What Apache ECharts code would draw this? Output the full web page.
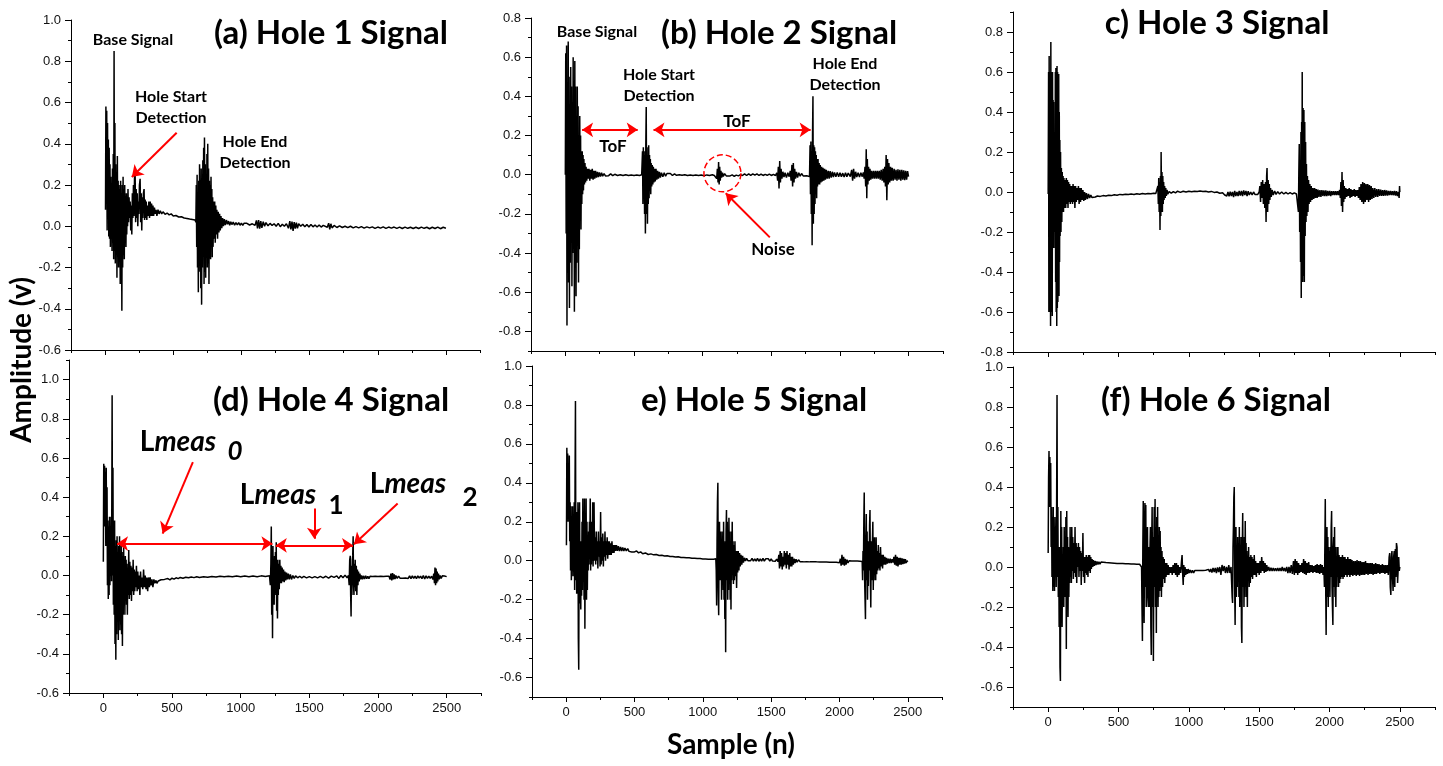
<!DOCTYPE html>
<html><head><meta charset="utf-8">
<script src="https://cdn.jsdelivr.net/npm/echarts@6/dist/echarts.min.js"></script>
<style>html,body{margin:0;padding:0;background:#fff}#c{width:1443px;height:766px}</style>
</head><body><div id="c"></div>
<script>
// ---------------- DATA ----------------
const hole1 = [[3,0.08],[6,0.58],[9,0.15],[12,0.56],[15,-0.02],[18,0.5],[21,0.05],[24,0.42],[27,-0.05],[30,0.38],[33,-0.06],[36,0.3],[39,-0.1],[42,0.24],[45,-0.06],[48,0.2],[51,-0.12],[54,0.28],[57,-0.08],[60,0.35],[63,-0.16],[66,0.85],[69,-0.12],[72,0.5],[75,-0.18],[78,0.3],[81,-0.06],[84,0.26],[87,-0.25],[90,0.34],[93,-0.12],[96,0.22],[99,-0.2],[102,0.2],[105,-0.1],[108,0.18],[111,-0.28],[114,0.22],[117,-0.14],[120,0.16],[123,-0.41],[126,0.2],[129,-0.2],[132,0.24],[135,-0.14],[138,0.18],[141,-0.16],[144,0.2],[147,-0.06],[150,0.14],[153,-0.1],[156,0.16],[159,-0.04],[162,0.12],[165,0.0],[168,0.18],[172,0.02],[176,0.14],[180,0.04],[184,0.12],[188,-0.02],[192,0.1],[196,-0.04],[200,0.16],[204,0.04],[208,0.2],[212,0.05],[216,0.24],[220,0.28],[224,0.02],[228,0.18],[232,0.04],[236,0.16],[240,0.0],[244,0.12],[248,0.06],[252,0.2],[257,0.23],[261,0.02],[265,0.16],[269,-0.02],[273,0.14],[277,0.04],[281,0.16],[286,0.18],[290,0.03],[294,0.13],[298,0.04],[302,0.12],[306,0.03],[311,0.1],[316,0.05],[321,0.12],[326,0.04],[331,0.12],[336,0.05],[341,0.11],[346,0.05],[351,0.1],[356,0.05],[362,0.09],[368,0.06],[374,0.08],[380,0.05],[388,0.08],[396,0.06],[405,0.075],[415,0.06],[425,0.07],[440,0.058],[455,0.064],[470,0.055],[485,0.06],[500,0.05],[520,0.052],[540,0.045],[560,0.046],[580,0.04],[600,0.038],[620,0.035],[640,0.033],[660,0.03],[666,0.02],[669,0.2],[672,-0.1],[675,0.25],[678,-0.2],[681,0.15],[684,-0.32],[687,0.22],[690,-0.22],[693,0.3],[696,-0.15],[699,0.2],[702,-0.3],[705,0.28],[708,-0.38],[711,0.2],[714,-0.2],[717,0.32],[720,-0.12],[723,0.38],[726,-0.28],[729,0.43],[732,-0.22],[735,0.3],[738,-0.25],[741,0.25],[744,-0.15],[747,0.35],[750,-0.2],[753,0.4],[756,-0.18],[759,0.28],[762,-0.28],[765,0.22],[768,-0.12],[771,0.2],[774,-0.16],[777,0.24],[780,-0.08],[783,0.18],[786,-0.15],[789,0.14],[792,-0.1],[796,0.12],[800,-0.06],[804,0.12],[808,-0.08],[812,0.1],[816,-0.04],[820,0.08],[825,-0.06],[830,0.07],[835,-0.03],[840,0.06],[845,-0.02],[850,0.05],[856,-0.01],[862,0.04],[868,0.0],[875,0.035],[882,0.005],[890,0.03],[898,0.01],[906,0.025],[914,0.005],[922,0.022],[930,0.008],[940,0.02],[950,0.005],[960,0.018],[970,0.006],[980,0.018],[990,0.005],[1000,0.015],[1010,0.004],[1020,0.015],[1040,0.014],[1060,0.006],[1080,0.012],[1100,0.004],[1110,0.028],[1118,-0.01],[1126,0.03],[1134,-0.012],[1142,0.025],[1150,-0.008],[1160,0.022],[1170,0.0],[1180,0.018],[1195,0.002],[1210,0.014],[1225,0.004],[1240,0.012],[1255,0.0],[1270,0.014],[1285,-0.002],[1300,0.01],[1315,0.0],[1330,0.012],[1345,-0.01],[1355,0.025],[1363,-0.015],[1371,0.022],[1379,-0.022],[1387,0.02],[1395,-0.012],[1403,0.018],[1411,-0.01],[1420,0.012],[1435,0.0],[1450,0.01],[1465,-0.002],[1480,0.008],[1495,-0.004],[1510,0.008],[1525,-0.003],[1540,0.006],[1555,-0.004],[1570,0.006],[1585,-0.004],[1600,0.004],[1630,-0.005],[1640,0.015],[1648,-0.015],[1656,0.012],[1665,-0.008],[1680,0.004],[1700,-0.006],[1720,0.002],[1740,-0.006],[1760,0.0],[1780,-0.007],[1800,0.0],[1820,-0.008],[1840,-0.002],[1860,-0.008],[1880,-0.002],[1900,-0.009],[1920,-0.003],[1940,-0.008],[1960,-0.003],[1980,-0.01],[2000,-0.004],[2020,-0.009],[2040,-0.003],[2060,-0.01],[2080,-0.004],[2100,-0.009],[2120,-0.004],[2140,-0.01],[2160,-0.004],[2180,-0.011],[2200,-0.004],[2220,-0.01],[2240,-0.005],[2260,-0.011],[2280,-0.005],[2300,-0.011],[2320,-0.004],[2340,-0.01],[2360,-0.005],[2380,-0.012],[2400,-0.005],[2420,-0.011],[2440,-0.004],[2460,-0.012],[2480,-0.005],[2500,-0.01]];

const hole2 = [[0,0.0],[3,0.62],[6,-0.3],[9,0.66],[12,-0.77],[15,0.4],[18,-0.5],[21,0.68],[24,-0.55],[27,0.5],[30,-0.68],[33,0.3],[36,-0.45],[39,0.55],[42,-0.3],[45,0.45],[48,-0.57],[51,0.2],[54,-0.4],[57,0.6],[60,-0.2],[63,0.4],[66,-0.7],[69,0.58],[72,-0.35],[75,0.45],[78,-0.62],[81,0.3],[84,-0.45],[87,0.45],[90,-0.3],[93,0.35],[96,-0.55],[99,0.2],[102,-0.38],[105,0.3],[108,-0.2],[111,0.2],[114,-0.28],[117,0.12],[120,-0.15],[123,0.12],[126,-0.1],[129,0.1],[132,-0.08],[135,0.08],[139,-0.05],[143,0.06],[147,-0.04],[151,0.04],[156,-0.03],[161,0.03],[166,-0.02],[172,0.03],[178,-0.03],[184,0.025],[190,-0.02],[196,0.03],[202,-0.025],[208,0.02],[214,-0.02],[220,0.02],[227,-0.015],[234,0.015],[241,-0.012],[248,0.012],[256,-0.01],[264,0.01],[272,-0.008],[282,0.006],[292,-0.006],[302,0.004],[315,-0.005],[330,0.004],[345,-0.005],[360,0.002],[380,-0.004],[400,0.0],[420,-0.004],[440,0.0],[460,-0.004],[480,-0.001],[500,-0.004],[520,-0.001],[540,-0.004],[556,0.0],[562,0.12],[565,-0.15],[568,0.14],[571,-0.05],[574,0.12],[577,-0.2],[580,0.1],[583,-0.3],[586,0.15],[589,0.345],[592,-0.2],[595,0.14],[598,-0.25],[601,0.1],[604,-0.15],[607,0.15],[610,-0.12],[613,0.1],[616,-0.08],[619,0.08],[622,-0.1],[625,0.06],[629,-0.06],[633,0.05],[637,-0.05],[641,0.04],[645,-0.04],[650,0.03],[655,-0.035],[660,0.03],[666,-0.025],[672,0.02],[678,-0.02],[685,0.015],[692,-0.015],[700,0.01],[710,-0.01],[720,0.01],[730,-0.008],[740,0.006],[752,-0.004],[765,0.006],[780,-0.004],[795,0.004],[810,-0.003],[830,0.0],[850,-0.003],[870,0.0],[890,-0.004],[910,-0.001],[930,-0.004],[950,-0.001],[970,-0.004],[990,-0.002],[1010,-0.005],[1030,-0.001],[1050,-0.004],[1070,0.0],[1085,-0.004],[1095,0.004],[1102,-0.02],[1107,0.03],[1112,-0.04],[1116,0.065],[1120,-0.05],[1124,0.04],[1128,-0.03],[1133,0.02],[1138,-0.015],[1144,0.01],[1150,-0.008],[1160,0.005],[1172,-0.006],[1185,0.002],[1200,-0.006],[1215,-0.001],[1230,-0.008],[1245,-0.002],[1260,-0.006],[1275,0.0],[1290,-0.004],[1305,0.004],[1320,-0.004],[1335,0.004],[1350,-0.003],[1365,0.004],[1380,-0.002],[1395,0.004],[1410,-0.004],[1425,0.003],[1440,-0.004],[1455,0.002],[1470,-0.003],[1485,0.003],[1500,-0.004],[1515,0.002],[1530,-0.004],[1540,0.01],[1546,-0.03],[1551,0.04],[1556,-0.07],[1561,0.07],[1566,-0.04],[1571,0.03],[1577,-0.02],[1584,0.015],[1592,-0.012],[1600,0.01],[1610,-0.015],[1620,0.01],[1630,-0.01],[1638,0.02],[1644,-0.03],[1650,0.05],[1655,-0.06],[1660,0.06],[1665,-0.04],[1670,0.03],[1676,-0.02],[1683,0.015],[1691,-0.015],[1700,0.01],[1710,-0.008],[1720,0.006],[1732,-0.006],[1745,0.004],[1758,-0.005],[1770,0.004],[1778,-0.01],[1782,0.15],[1785,-0.1],[1788,0.17],[1791,-0.2],[1794,0.12],[1797,-0.36],[1800,0.2],[1803,0.4],[1806,-0.25],[1809,0.15],[1812,-0.2],[1815,0.14],[1818,-0.15],[1821,0.12],[1824,-0.1],[1827,0.1],[1830,-0.12],[1833,0.08],[1836,-0.06],[1840,0.08],[1844,-0.05],[1848,0.06],[1852,-0.05],[1856,0.05],[1861,-0.04],[1866,0.04],[1871,-0.035],[1876,0.035],[1882,-0.03],[1888,0.03],[1894,-0.025],[1900,0.025],[1907,-0.02],[1914,0.02],[1921,-0.02],[1928,0.018],[1936,-0.015],[1944,0.015],[1952,-0.012],[1960,0.012],[1970,-0.01],[1980,0.012],[1990,-0.01],[2000,0.01],[2010,-0.01],[2020,0.008],[2030,-0.012],[2040,0.01],[2050,-0.01],[2060,0.008],[2075,-0.01],[2085,0.025],[2092,-0.03],[2099,0.03],[2106,-0.02],[2114,0.015],[2122,-0.012],[2132,0.01],[2142,-0.012],[2152,0.01],[2162,-0.01],[2170,0.012],[2176,-0.02],[2182,0.04],[2187,-0.06],[2191,0.13],[2195,-0.12],[2199,0.08],[2203,-0.05],[2208,0.04],[2213,-0.03],[2218,0.03],[2224,-0.025],[2230,0.02],[2237,-0.02],[2244,0.02],[2251,-0.02],[2258,0.02],[2265,-0.02],[2272,0.02],[2279,-0.02],[2286,0.02],[2293,-0.025],[2300,0.025],[2307,-0.03],[2314,0.03],[2320,-0.04],[2326,0.04],[2331,-0.06],[2336,0.1],[2341,-0.13],[2346,0.08],[2351,-0.05],[2356,0.06],[2362,-0.04],[2368,0.04],[2374,-0.03],[2380,0.035],[2387,-0.03],[2394,0.03],[2401,-0.025],[2408,0.025],[2415,-0.03],[2422,0.028],[2429,-0.025],[2436,0.025],[2443,-0.03],[2450,0.025],[2457,-0.025],[2464,0.022],[2471,-0.028],[2478,0.02],[2485,-0.025],[2492,0.018],[2499,-0.01]];

const hole3 = [[0,-0.01],[3,0.6],[5,-0.6],[7,0.68],[9,-0.58],[11,0.45],[13,-0.6],[15,0.6],[17,-0.67],[19,0.75],[21,-0.5],[23,0.6],[25,-0.6],[27,0.14],[29,-0.62],[31,0.6],[33,-0.28],[35,0.46],[37,-0.2],[39,0.45],[41,-0.28],[43,0.3],[45,-0.1],[47,0.12],[49,-0.2],[51,0.6],[53,-0.45],[55,0.62],[57,-0.6],[59,0.55],[61,-0.67],[63,0.63],[65,-0.58],[67,0.6],[69,-0.55],[71,0.59],[73,-0.5],[75,0.59],[77,-0.52],[79,0.4],[81,-0.35],[83,0.26],[85,-0.22],[88,0.2],[91,-0.2],[94,0.12],[97,-0.15],[100,0.1],[103,-0.1],[106,0.08],[109,-0.1],[112,0.07],[115,-0.08],[118,0.06],[121,0.05],[125,-0.08],[129,0.07],[133,-0.06],[137,0.06],[141,-0.08],[145,0.05],[149,-0.05],[153,0.04],[157,-0.06],[161,0.03],[165,-0.05],[169,0.03],[173,-0.06],[177,0.04],[181,-0.05],[185,0.03],[190,-0.08],[195,0.03],[200,-0.05],[205,0.02],[210,-0.04],[215,0.03],[220,-0.06],[225,0.02],[230,-0.05],[235,0.02],[241,-0.04],[247,0.01],[253,-0.045],[259,0.0],[265,-0.04],[272,-0.005],[279,-0.035],[287,-0.01],[295,-0.03],[303,-0.015],[312,-0.028],[322,-0.018],[335,-0.025],[350,-0.02],[370,-0.022],[390,-0.018],[410,-0.02],[430,-0.016],[450,-0.018],[470,-0.014],[490,-0.016],[510,-0.012],[530,-0.014],[550,-0.011],[570,-0.013],[590,-0.01],[610,-0.012],[630,-0.009],[650,-0.011],[670,-0.008],[690,-0.01],[710,-0.007],[730,-0.009],[750,-0.006],[765,-0.008],[775,-0.004],[780,0.03],[783,-0.06],[786,0.07],[789,-0.1],[792,0.05],[795,-0.19],[798,0.08],[801,-0.12],[803,0.2],[806,-0.08],[809,0.1],[812,-0.1],[815,0.08],[818,-0.06],[821,0.05],[824,-0.04],[828,0.03],[832,-0.03],[836,0.02],[840,-0.02],[845,0.01],[850,-0.01],[860,0.002],[875,-0.006],[890,0.002],[905,-0.004],[920,0.004],[940,-0.002],[960,0.004],[980,0.0],[1000,0.004],[1020,0.001],[1040,0.004],[1060,0.002],[1080,0.005],[1100,0.002],[1120,0.004],[1140,0.0],[1160,0.003],[1180,-0.002],[1200,0.0],[1220,-0.006],[1240,-0.004],[1255,-0.015],[1262,-0.005],[1270,-0.02],[1278,0.0],[1286,-0.022],[1294,0.002],[1302,-0.02],[1310,0.0],[1318,-0.025],[1326,0.005],[1334,-0.02],[1342,0.0],[1350,-0.02],[1358,0.005],[1366,-0.018],[1374,0.005],[1382,-0.02],[1390,0.008],[1398,-0.015],[1406,0.005],[1414,-0.02],[1422,0.004],[1430,-0.015],[1440,0.0],[1450,-0.015],[1460,0.0],[1470,-0.012],[1480,-0.002],[1490,-0.012],[1500,0.0],[1505,0.03],[1510,-0.05],[1515,0.05],[1520,-0.03],[1525,0.06],[1530,-0.06],[1535,0.04],[1540,-0.08],[1545,0.05],[1549,-0.15],[1553,0.08],[1556,0.12],[1560,-0.1],[1564,0.06],[1568,-0.06],[1572,0.04],[1576,-0.04],[1581,0.02],[1586,-0.025],[1592,0.01],[1600,-0.015],[1610,0.005],[1620,-0.012],[1632,0.002],[1645,-0.01],[1660,0.0],[1675,-0.01],[1690,-0.002],[1705,-0.01],[1720,-0.003],[1735,-0.01],[1750,-0.004],[1765,-0.01],[1775,-0.005],[1779,-0.1],[1782,0.1],[1785,0.24],[1788,-0.2],[1791,0.15],[1794,-0.35],[1797,0.3],[1799,-0.53],[1802,0.35],[1804,-0.3],[1806,0.6],[1809,-0.45],[1812,0.42],[1815,-0.42],[1818,0.41],[1821,-0.45],[1824,0.35],[1827,-0.22],[1830,0.25],[1833,-0.15],[1836,0.14],[1839,-0.12],[1843,0.08],[1847,-0.1],[1851,0.06],[1855,-0.06],[1860,0.04],[1865,-0.05],[1870,0.03],[1876,-0.04],[1882,0.02],[1888,-0.035],[1894,0.02],[1900,-0.03],[1906,0.015],[1912,-0.03],[1918,0.012],[1925,-0.025],[1932,0.01],[1939,-0.025],[1946,0.01],[1953,-0.02],[1960,0.008],[1967,-0.02],[1974,0.008],[1981,-0.02],[1988,0.006],[1995,-0.018],[2002,0.006],[2009,-0.02],[2016,0.004],[2023,-0.015],[2030,0.004],[2037,-0.015],[2044,0.004],[2051,-0.015],[2058,0.004],[2065,-0.015],[2072,0.01],[2077,-0.03],[2081,0.05],[2085,-0.07],[2089,0.1],[2093,-0.1],[2097,0.06],[2101,-0.05],[2105,0.03],[2110,-0.035],[2116,0.02],[2122,-0.025],[2128,0.015],[2134,-0.02],[2140,0.02],[2146,-0.03],[2152,0.015],[2158,-0.025],[2164,0.01],[2170,-0.02],[2176,0.015],[2182,-0.025],[2188,0.01],[2194,-0.02],[2200,0.01],[2206,-0.03],[2212,0.025],[2218,-0.04],[2224,0.04],[2230,-0.05],[2236,0.05],[2242,-0.06],[2248,0.045],[2254,-0.05],[2260,0.04],[2266,-0.04],[2272,0.04],[2278,-0.05],[2284,0.035],[2290,-0.04],[2296,0.03],[2302,-0.035],[2308,0.02],[2315,-0.03],[2322,0.02],[2329,-0.025],[2336,0.015],[2343,-0.025],[2350,0.015],[2357,-0.02],[2364,0.012],[2371,-0.02],[2378,0.01],[2385,-0.02],[2392,0.01],[2399,-0.018],[2406,0.008],[2413,-0.018],[2420,0.006],[2427,-0.016],[2434,0.005],[2441,-0.015],[2448,0.004],[2455,-0.016],[2462,0.005],[2469,-0.018],[2476,0.004],[2483,-0.02],[2490,0.0],[2495,-0.03],[2498,0.03],[2500,0.0]];

const hole4 = [[0,0.07],[3,0.57],[6,0.3],[9,0.56],[12,0.25],[15,0.53],[18,0.15],[21,0.55],[24,0.2],[27,0.45],[30,-0.05],[33,0.28],[36,-0.12],[39,0.25],[42,-0.1],[45,0.3],[48,-0.05],[51,0.2],[54,0.0],[57,0.3],[60,-0.03],[64,0.92],[67,0.0],[70,0.55],[73,-0.15],[76,0.2],[79,-0.2],[82,0.28],[85,-0.35],[88,0.15],[91,-0.43],[94,0.18],[97,-0.3],[100,0.2],[103,-0.2],[106,0.12],[109,-0.33],[112,0.15],[115,-0.2],[118,0.2],[121,-0.28],[124,0.1],[127,-0.25],[130,0.17],[133,-0.3],[136,0.1],[139,-0.36],[142,0.12],[145,-0.2],[148,0.15],[151,-0.15],[154,0.05],[157,-0.2],[160,0.1],[163,-0.12],[166,0.08],[169,-0.15],[172,0.06],[175,-0.2],[178,0.04],[181,-0.1],[185,0.13],[189,-0.12],[193,0.07],[197,-0.1],[201,0.05],[205,-0.13],[209,0.04],[213,-0.08],[217,0.08],[221,-0.1],[225,0.03],[229,-0.08],[233,0.02],[237,-0.06],[241,0.05],[246,-0.08],[251,0.02],[256,-0.07],[261,0.0],[266,-0.1],[271,0.02],[276,-0.06],[281,-0.01],[287,-0.07],[293,0.03],[299,-0.06],[305,0.0],[311,-0.07],[317,-0.01],[323,-0.08],[329,-0.01],[335,-0.06],[341,-0.01],[347,-0.05],[354,-0.02],[361,-0.06],[368,-0.02],[375,-0.04],[382,-0.025],[390,-0.04],[400,-0.028],[410,-0.034],[420,-0.022],[432,-0.03],[445,-0.02],[458,-0.026],[470,-0.016],[485,-0.022],[500,-0.014],[515,-0.019],[530,-0.012],[545,-0.016],[560,-0.01],[580,-0.014],[600,-0.009],[620,-0.012],[640,-0.008],[660,-0.011],[680,-0.007],[700,-0.01],[730,-0.006],[760,-0.009],[790,-0.005],[820,-0.008],[850,-0.004],[880,-0.007],[910,-0.004],[940,-0.007],[970,-0.003],[1000,-0.006],[1030,-0.003],[1060,-0.006],[1090,-0.003],[1120,-0.006],[1150,-0.002],[1180,-0.005],[1210,-0.002],[1216,-0.05],[1220,0.06],[1223,0.25],[1226,-0.2],[1229,0.1],[1232,-0.32],[1235,0.15],[1238,-0.1],[1241,0.05],[1244,-0.15],[1247,0.1],[1250,-0.08],[1253,0.12],[1256,-0.1],[1259,0.17],[1262,-0.18],[1265,0.08],[1268,-0.22],[1271,0.08],[1274,-0.1],[1277,0.06],[1281,-0.07],[1285,0.08],[1289,-0.04],[1293,0.05],[1297,-0.04],[1302,0.04],[1307,-0.03],[1312,0.03],[1317,-0.035],[1322,0.02],[1328,-0.025],[1334,0.015],[1340,-0.02],[1347,0.01],[1354,-0.02],[1362,0.005],[1370,-0.02],[1380,0.0],[1390,-0.015],[1400,-0.002],[1415,-0.012],[1430,-0.004],[1445,-0.012],[1460,-0.005],[1480,-0.012],[1500,-0.006],[1520,-0.012],[1540,-0.006],[1560,-0.012],[1580,-0.005],[1600,-0.012],[1620,-0.004],[1640,-0.014],[1660,-0.003],[1680,-0.01],[1700,-0.002],[1715,-0.015],[1730,0.0],[1745,-0.012],[1760,0.002],[1775,-0.012],[1785,0.0],[1790,-0.05],[1794,0.08],[1798,0.1],[1801,-0.1],[1804,-0.21],[1807,0.05],[1810,-0.1],[1813,0.08],[1816,0.1],[1819,0.2],[1822,-0.05],[1825,-0.1],[1828,0.06],[1831,-0.06],[1834,0.08],[1838,-0.08],[1842,0.05],[1846,-0.1],[1850,0.03],[1854,-0.05],[1858,0.02],[1863,-0.03],[1868,0.01],[1874,-0.02],[1880,0.0],[1887,-0.02],[1894,-0.002],[1902,-0.018],[1910,-0.002],[1918,-0.016],[1926,-0.004],[1934,-0.016],[1942,-0.004],[1950,-0.014],[1960,-0.005],[1970,-0.015],[1980,-0.004],[1990,-0.014],[2000,-0.005],[2010,-0.015],[2020,-0.004],[2030,-0.012],[2040,-0.005],[2050,-0.014],[2060,-0.004],[2070,-0.012],[2080,-0.004],[2088,-0.02],[2094,0.01],[2100,-0.025],[2106,0.012],[2112,-0.02],[2118,0.005],[2124,-0.018],[2130,0.0],[2140,-0.015],[2150,-0.003],[2160,-0.014],[2170,-0.004],[2180,-0.014],[2190,-0.004],[2200,-0.013],[2210,-0.004],[2220,-0.015],[2230,-0.002],[2240,-0.016],[2250,-0.002],[2260,-0.015],[2270,-0.003],[2280,-0.016],[2290,-0.002],[2300,-0.014],[2310,-0.003],[2320,-0.016],[2330,0.0],[2340,-0.018],[2350,-0.002],[2360,-0.015],[2370,-0.003],[2380,-0.015],[2390,-0.004],[2400,-0.02],[2406,0.01],[2411,-0.04],[2415,0.04],[2419,-0.05],[2423,0.035],[2427,-0.04],[2431,0.02],[2435,-0.03],[2440,0.01],[2446,-0.02],[2452,0.0],[2460,-0.015],[2468,-0.002],[2476,-0.012],[2484,-0.003],[2492,-0.012],[2500,-0.006]];

const hole5 = [[2,0.08],[5,0.58],[8,0.3],[11,0.55],[14,0.2],[17,0.5],[20,0.25],[23,0.54],[26,0.1],[29,0.3],[32,-0.05],[35,0.28],[38,-0.1],[41,0.15],[44,-0.05],[47,0.28],[50,-0.08],[53,0.2],[56,-0.05],[59,0.3],[62,-0.15],[65,0.4],[68,0.82],[71,-0.1],[74,0.2],[77,-0.17],[80,0.25],[83,-0.12],[86,0.3],[89,-0.4],[92,-0.56],[95,0.15],[98,0.3],[101,-0.22],[104,0.1],[107,-0.25],[110,0.1],[113,-0.18],[116,0.2],[119,-0.15],[122,0.32],[125,-0.1],[128,0.25],[131,-0.2],[134,0.32],[137,-0.35],[140,0.15],[143,-0.1],[146,0.32],[149,-0.2],[152,0.2],[155,-0.15],[158,0.1],[161,-0.05],[164,0.15],[167,-0.02],[170,0.2],[173,0.02],[176,0.32],[179,-0.05],[182,0.15],[185,-0.02],[188,0.2],[191,0.0],[194,0.3],[197,-0.03],[200,0.15],[204,0.3],[208,0.0],[212,0.12],[216,-0.02],[220,0.15],[224,0.0],[228,0.1],[232,-0.04],[236,0.15],[240,0.02],[244,0.1],[248,-0.03],[252,0.25],[256,-0.02],[260,0.12],[264,0.0],[268,0.14],[272,-0.03],[276,0.1],[280,0.02],[284,0.15],[288,0.0],[292,0.1],[296,0.03],[300,0.12],[304,0.01],[308,0.1],[312,0.03],[316,0.1],[320,0.03],[325,0.09],[330,0.03],[335,0.1],[340,0.04],[345,0.08],[350,0.04],[356,0.08],[362,0.05],[368,0.08],[375,0.05],[382,0.075],[390,0.05],[398,0.07],[406,0.05],[414,0.068],[422,0.05],[430,0.065],[440,0.05],[450,0.062],[460,0.048],[470,0.058],[480,0.045],[490,0.055],[500,0.045],[515,0.05],[530,0.04],[545,0.045],[560,0.036],[580,0.04],[600,0.032],[620,0.035],[640,0.03],[660,0.032],[680,0.027],[700,0.028],[720,0.024],[740,0.025],[760,0.022],[780,0.022],[800,0.019],[820,0.02],[840,0.017],[860,0.017],[880,0.015],[900,0.015],[920,0.013],[940,0.013],[960,0.011],[980,0.011],[1000,0.009],[1020,0.009],[1040,0.008],[1060,0.007],[1080,0.007],[1095,0.01],[1098,-0.05],[1101,-0.23],[1104,0.1],[1107,0.3],[1110,0.4],[1113,-0.15],[1116,-0.28],[1119,0.05],[1122,0.2],[1125,-0.1],[1128,0.15],[1131,-0.05],[1134,0.1],[1137,-0.2],[1140,0.15],[1143,-0.1],[1146,0.1],[1149,-0.15],[1152,0.2],[1155,-0.2],[1158,0.05],[1161,-0.3],[1164,0.1],[1167,-0.47],[1170,0.15],[1173,0.26],[1176,-0.1],[1179,0.2],[1182,-0.2],[1185,0.1],[1188,-0.15],[1191,0.22],[1194,-0.05],[1197,0.15],[1200,-0.2],[1203,0.1],[1206,-0.25],[1209,0.15],[1212,-0.1],[1215,0.2],[1218,-0.05],[1221,0.1],[1224,-0.12],[1227,0.08],[1231,-0.1],[1235,0.1],[1239,-0.08],[1243,0.05],[1247,-0.14],[1251,0.05],[1255,-0.06],[1259,0.05],[1264,-0.05],[1269,0.04],[1274,-0.03],[1279,0.03],[1285,-0.02],[1291,0.025],[1297,-0.01],[1304,0.015],[1312,-0.002],[1320,0.012],[1330,0.0],[1340,0.01],[1350,0.0],[1360,0.012],[1370,-0.002],[1380,0.01],[1390,-0.002],[1400,0.012],[1410,-0.003],[1420,0.01],[1430,-0.002],[1440,0.012],[1450,-0.002],[1460,0.01],[1470,0.0],[1480,0.01],[1490,-0.002],[1500,0.01],[1510,-0.002],[1520,0.008],[1530,-0.003],[1540,0.008],[1550,-0.005],[1556,0.03],[1561,-0.04],[1566,0.05],[1571,-0.03],[1576,0.04],[1581,-0.045],[1586,0.02],[1591,-0.03],[1596,0.05],[1601,-0.02],[1606,0.04],[1611,-0.04],[1616,0.05],[1621,-0.02],[1626,0.03],[1631,-0.045],[1636,0.04],[1641,-0.03],[1646,0.02],[1651,-0.03],[1656,0.02],[1662,-0.02],[1668,0.01],[1675,-0.012],[1682,0.008],[1690,-0.008],[1700,0.005],[1712,-0.006],[1724,0.004],[1736,-0.006],[1748,0.003],[1760,-0.005],[1772,0.003],[1784,-0.006],[1796,0.002],[1808,-0.006],[1820,0.002],[1832,-0.006],[1844,0.001],[1856,-0.007],[1868,0.0],[1880,-0.007],[1892,0.0],[1904,-0.007],[1916,0.0],[1928,-0.008],[1940,-0.001],[1952,-0.008],[1964,-0.001],[1976,-0.008],[1988,-0.001],[2000,-0.01],[2006,0.01],[2012,-0.025],[2018,0.03],[2024,-0.02],[2030,0.02],[2036,-0.025],[2042,0.01],[2048,-0.02],[2055,0.005],[2062,-0.012],[2070,0.0],[2080,-0.01],[2090,-0.002],[2100,-0.01],[2110,-0.002],[2120,-0.01],[2130,-0.002],[2140,-0.01],[2150,-0.003],[2160,-0.01],[2166,-0.004],[2169,-0.1],[2172,0.05],[2175,-0.05],[2178,0.2],[2181,0.35],[2184,-0.1],[2187,-0.2],[2190,-0.3],[2193,0.1],[2196,0.24],[2199,-0.1],[2202,0.15],[2205,-0.2],[2208,0.1],[2211,-0.13],[2214,0.05],[2217,-0.05],[2220,0.18],[2223,0.26],[2226,-0.1],[2229,-0.24],[2232,0.05],[2235,0.1],[2238,-0.1],[2241,0.1],[2244,0.2],[2247,-0.15],[2250,0.05],[2253,-0.1],[2256,0.12],[2259,-0.05],[2262,0.06],[2265,-0.1],[2268,0.12],[2272,-0.07],[2276,0.05],[2280,-0.05],[2284,0.08],[2288,-0.04],[2292,0.04],[2296,-0.05],[2300,0.07],[2305,-0.03],[2310,0.03],[2315,-0.04],[2320,0.03],[2326,-0.02],[2332,0.02],[2338,-0.02],[2344,0.015],[2350,-0.015],[2357,0.01],[2364,-0.012],[2371,0.01],[2378,-0.012],[2385,0.008],[2392,-0.01],[2398,0.02],[2404,-0.02],[2410,0.03],[2416,-0.025],[2422,0.02],[2428,-0.03],[2434,0.015],[2440,-0.02],[2446,0.015],[2452,-0.02],[2458,0.012],[2464,-0.018],[2470,0.01],[2476,-0.015],[2482,0.008],[2488,-0.012],[2494,0.0],[2500,-0.005]];

const hole6 = [[0,0.07],[3,0.45],[6,0.58],[9,0.3],[12,0.55],[15,0.3],[18,0.52],[21,0.1],[24,0.3],[27,-0.05],[30,0.25],[33,-0.12],[36,0.3],[39,-0.1],[42,0.2],[45,-0.12],[48,0.25],[51,-0.05],[54,0.2],[57,-0.1],[60,0.3],[63,0.86],[66,-0.05],[69,0.3],[72,-0.15],[75,0.1],[78,-0.3],[81,0.1],[84,-0.5],[87,-0.57],[90,0.28],[93,-0.1],[96,0.2],[99,-0.3],[102,0.05],[105,-0.15],[108,0.1],[111,-0.2],[114,0.2],[117,-0.15],[120,0.1],[123,-0.12],[126,0.25],[129,-0.41],[132,0.28],[135,-0.1],[138,0.15],[141,-0.25],[144,0.1],[147,-0.15],[150,0.05],[153,-0.08],[156,0.2],[159,-0.05],[162,0.15],[165,-0.08],[168,0.2],[171,-0.02],[175,0.15],[179,-0.06],[183,0.12],[187,-0.03],[191,0.2],[195,-0.05],[199,0.12],[203,-0.08],[207,0.1],[211,0.0],[215,0.12],[219,-0.05],[223,0.1],[227,-0.02],[231,0.08],[235,-0.09],[239,0.07],[243,-0.02],[247,0.17],[251,-0.05],[255,0.05],[259,-0.08],[263,0.05],[267,-0.03],[271,0.06],[275,-0.04],[279,0.05],[283,-0.05],[287,0.06],[291,-0.02],[295,0.06],[299,-0.03],[303,0.05],[307,-0.01],[312,0.04],[317,0.0],[322,0.035],[328,0.005],[334,0.03],[340,0.01],[347,0.028],[354,0.012],[361,0.026],[368,0.014],[376,0.025],[384,0.015],[392,0.024],[400,0.014],[410,0.022],[420,0.015],[430,0.021],[440,0.014],[450,0.02],[460,0.014],[470,0.019],[480,0.013],[490,0.018],[500,0.013],[510,0.017],[520,0.012],[530,0.017],[540,0.012],[550,0.016],[560,0.011],[570,0.016],[580,0.011],[590,0.015],[600,0.011],[610,0.015],[620,0.011],[630,0.014],[640,0.012],[650,0.014],[660,0.012],[664,0.0],[667,-0.2],[670,-0.37],[673,0.1],[676,0.33],[679,0.0],[682,-0.28],[685,0.15],[688,0.32],[691,-0.1],[694,0.31],[697,-0.2],[700,-0.1],[703,0.15],[706,0.2],[709,-0.15],[712,-0.2],[715,0.1],[718,0.05],[721,-0.2],[724,0.1],[727,0.2],[730,-0.3],[733,-0.44],[736,0.1],[739,0.3],[742,-0.2],[745,0.15],[748,-0.47],[751,0.05],[754,0.3],[757,-0.1],[760,0.34],[763,-0.2],[766,0.2],[769,-0.33],[772,0.25],[775,-0.1],[778,0.3],[781,-0.2],[784,0.1],[787,-0.15],[790,0.2],[793,-0.12],[796,0.18],[799,-0.1],[802,0.1],[805,-0.15],[809,0.08],[813,-0.1],[817,0.05],[821,-0.06],[825,0.04],[829,-0.08],[833,0.02],[838,-0.05],[843,0.02],[848,-0.04],[853,0.01],[858,-0.04],[864,0.0],[870,-0.03],[876,0.0],[882,-0.04],[888,0.01],[894,-0.03],[900,0.02],[906,-0.04],[912,0.02],[918,-0.05],[924,0.01],[930,-0.04],[936,0.0],[942,-0.03],[948,0.03],[952,0.06],[956,-0.03],[960,-0.09],[964,0.01],[968,-0.05],[973,0.0],[978,-0.04],[984,-0.01],[990,-0.035],[996,-0.01],[1002,-0.03],[1010,-0.015],[1018,-0.03],[1026,-0.016],[1034,-0.03],[1042,-0.018],[1050,-0.028],[1060,-0.018],[1070,-0.026],[1080,-0.018],[1090,-0.026],[1100,-0.017],[1110,-0.024],[1120,-0.016],[1130,-0.022],[1140,-0.012],[1148,-0.025],[1156,-0.01],[1164,-0.028],[1172,-0.005],[1180,-0.025],[1188,-0.005],[1196,-0.03],[1204,-0.002],[1212,-0.025],[1220,0.0],[1228,-0.04],[1236,0.01],[1244,-0.02],[1252,0.005],[1260,-0.03],[1268,0.0],[1276,-0.03],[1284,0.01],[1292,-0.03],[1300,0.0],[1304,0.0],[1308,-0.15],[1311,-0.18],[1314,0.1],[1317,0.2],[1320,0.35],[1323,0.4],[1326,-0.1],[1329,-0.29],[1332,0.05],[1335,0.2],[1338,-0.15],[1341,0.1],[1344,-0.1],[1347,0.15],[1350,-0.05],[1353,0.1],[1356,-0.15],[1359,0.2],[1362,-0.2],[1365,0.05],[1368,-0.1],[1371,0.15],[1374,-0.3],[1377,-0.38],[1380,0.1],[1383,0.27],[1386,-0.1],[1389,0.1],[1392,-0.2],[1395,0.15],[1398,-0.15],[1401,0.23],[1404,-0.1],[1407,0.12],[1410,-0.15],[1413,0.08],[1416,-0.2],[1419,0.05],[1422,-0.05],[1425,0.1],[1429,-0.1],[1433,0.05],[1437,-0.08],[1441,0.06],[1445,-0.05],[1449,0.05],[1453,-0.06],[1457,0.04],[1461,-0.04],[1465,0.06],[1470,-0.04],[1475,0.03],[1480,-0.05],[1485,0.02],[1490,-0.03],[1495,0.02],[1500,-0.04],[1506,0.03],[1512,-0.03],[1518,0.05],[1524,-0.02],[1530,0.03],[1536,-0.03],[1542,0.02],[1548,-0.025],[1554,0.01],[1560,-0.02],[1568,0.0],[1576,-0.02],[1584,-0.004],[1592,-0.02],[1600,-0.005],[1608,-0.02],[1616,-0.006],[1624,-0.02],[1632,-0.005],[1640,-0.02],[1648,-0.005],[1656,-0.02],[1664,0.0],[1672,-0.02],[1680,-0.005],[1688,-0.022],[1696,0.0],[1704,-0.03],[1712,0.0],[1720,-0.03],[1728,0.01],[1736,-0.035],[1744,0.03],[1750,-0.04],[1756,0.04],[1762,-0.03],[1768,0.03],[1774,-0.04],[1780,0.02],[1786,-0.03],[1792,0.01],[1798,-0.025],[1804,0.02],[1810,-0.03],[1816,0.04],[1822,-0.035],[1828,0.03],[1834,-0.04],[1840,0.02],[1846,-0.03],[1852,0.025],[1858,-0.03],[1864,0.01],[1870,-0.025],[1876,0.01],[1882,-0.03],[1888,0.005],[1894,-0.025],[1900,0.01],[1906,-0.03],[1912,0.015],[1918,-0.03],[1924,0.01],[1930,-0.035],[1936,0.015],[1942,-0.03],[1948,0.01],[1954,-0.04],[1960,0.0],[1964,-0.1],[1967,0.1],[1970,0.34],[1973,-0.1],[1976,-0.34],[1979,0.0],[1982,0.2],[1985,-0.15],[1988,0.15],[1991,-0.2],[1994,0.1],[1997,-0.05],[2000,0.08],[2003,-0.15],[2006,0.1],[2009,-0.05],[2012,0.2],[2015,0.28],[2018,-0.1],[2021,-0.2],[2024,-0.29],[2027,0.1],[2030,0.15],[2033,-0.1],[2036,0.2],[2039,-0.15],[2042,0.1],[2045,-0.2],[2048,0.05],[2051,-0.1],[2054,0.1],[2057,-0.05],[2060,0.1],[2064,-0.1],[2068,0.06],[2072,-0.08],[2076,0.05],[2080,-0.06],[2084,0.05],[2088,-0.05],[2092,0.06],[2096,-0.06],[2100,0.05],[2105,-0.05],[2110,0.05],[2115,-0.04],[2120,0.04],[2125,-0.05],[2130,0.05],[2135,-0.04],[2140,0.04],[2145,-0.05],[2150,0.04],[2155,-0.04],[2160,0.035],[2166,-0.045],[2172,0.03],[2178,-0.04],[2184,0.03],[2190,-0.045],[2196,0.035],[2202,-0.04],[2208,0.03],[2214,-0.045],[2220,0.03],[2226,-0.04],[2232,0.025],[2238,-0.04],[2244,0.025],[2250,-0.04],[2256,0.03],[2262,-0.035],[2268,0.02],[2274,-0.04],[2280,0.02],[2286,-0.035],[2292,0.02],[2298,-0.035],[2304,0.02],[2310,-0.04],[2316,0.015],[2322,-0.035],[2328,0.02],[2334,-0.035],[2340,0.015],[2346,-0.03],[2352,0.015],[2358,-0.035],[2364,0.01],[2370,-0.03],[2376,0.015],[2382,-0.03],[2388,0.01],[2394,-0.035],[2400,0.01],[2406,-0.03],[2412,0.01],[2418,-0.04],[2424,0.05],[2428,0.07],[2432,-0.1],[2436,-0.14],[2440,0.05],[2444,0.08],[2448,-0.05],[2452,-0.12],[2456,0.05],[2460,0.08],[2464,-0.1],[2468,0.09],[2472,-0.05],[2476,0.12],[2480,0.1],[2484,-0.08],[2488,-0.09],[2492,0.05],[2496,-0.02],[2500,0.0]];

const panelTitles = ['(a) Hole 1 Signal','(b) Hole 2 Signal','c) Hole 3 Signal','(d) Hole 4 Signal','e) Hole 5 Signal','(f) Hole 6 Signal'];
const yMins = [-0.6,-0.9,-0.8,-0.6,-0.7,-0.7];
const yMaxs = [1.0,0.8,0.9,1.1,1.0,1.0];
const xMin = -250, xMax = 2750;
const xTickLabels = [0,500,1000,1500,2000,2500];
const xMinorTicks = [-250,250,750,1250,1750,2250,2750];
const yAxisTitle = 'Amplitude (v)';
const xAxisTitle = 'Sample (n)';

// annotation anchors in data coordinates
const arrowsA = [[[525,0.453],[196,0.239]]];
const tofArrowsB = [[[122,0.229],[527,0.229]],[[642,0.229],[1786,0.229]]];
const noiseArrowB = [[[1489,-0.32],[1168,-0.095]]];
const noiseCircleB = [1144,0.007];
const lmeasDoubleD = [[[100,0.163],[1231,0.163]],[[1256,0.154],[1818,0.154]]];
const lmeasArrowsD = [[[652,0.579],[432,0.214]],[[1536,0.342],[1536,0.188]],[[2143,0.367],[1825,0.159]]];

// ---------------- LAYOUT ----------------
const grids = [
  {left:71, top:20, width:409, height:330},
  {left:531, top:18, width:412, height:333},
  {left:1013, top:12, width:422, height:340},
  {left:69, top:360, width:412, height:333},
  {left:532, top:366, width:410, height:331},
  {left:1013, top:367, width:422, height:340}
];
const titlePos = [[331,33],[779,33],[1217,23],[331,400],[754,400],[1216,400]];
const RED = '#ff0000';
const BOLD = 'Lato';

const holes = [hole1,hole2,hole3,hole4,hole5,hole6];
const option = {animation:false, backgroundColor:'#fff', grid:[], xAxis:[], yAxis:[], series:[], graphic:[]};

function tenthsBetween(lo, hi){
  const a = Math.round(lo*10), b = Math.round(hi*10), out = [];
  for (let k=a;k<=b;k++) out.push(k);
  return out;
}

function lineMark(pairs, startSym, endSym){
  return pairs.map(p => [
    {coord:p[0], symbol:startSym},
    {coord:p[1], symbol:endSym}
  ]);
}

grids.forEach((g,i)=>{
  option.grid.push({left:g.left, top:g.top, width:g.width, height:g.height, containLabel:false});
  const bottomRow = i>=3;
  const axisColor = '#000';
  option.xAxis.push({type:'value', gridIndex:i, position:'bottom', min:xMin, max:xMax,
    axisLine:{show:true,onZero:false,lineStyle:{color:axisColor,width:1}},
    axisTick:{show:true,customValues:xTickLabels,length:5,lineStyle:{color:axisColor}},
    axisLabel:{show:bottomRow,customValues:xTickLabels,margin:9,color:'#111',fontFamily:'Liberation Sans',fontSize:13,
      formatter:v=>String(Math.round(v))},
    splitLine:{show:false}});
  option.xAxis.push({type:'value', gridIndex:i, position:'bottom', min:xMin, max:xMax,
    axisLine:{show:false,onZero:false},
    axisTick:{show:true,customValues:xMinorTicks,length:3,lineStyle:{color:axisColor}},
    axisLabel:{show:false}, splitLine:{show:false}});
  const ks = tenthsBetween(yMins[i], yMaxs[i]);
  const major = ks.filter(k=>k%2===0).map(k=>k/10);
  const minor = ks.filter(k=>k%2!==0).map(k=>k/10);
  option.yAxis.push({type:'value', gridIndex:i, position:'left', min:yMins[i], max:yMaxs[i],
    axisLine:{show:true,onZero:false,lineStyle:{color:axisColor,width:1}},
    axisTick:{show:true,customValues:major,length:6,lineStyle:{color:axisColor}},
    axisLabel:{show:true,customValues:major,margin:10,color:'#111',fontFamily:'Liberation Sans',fontSize:13,
      formatter:v=>Number(v).toFixed(1)},
    splitLine:{show:false}});
  option.yAxis.push({type:'value', gridIndex:i, position:'left', min:yMins[i], max:yMaxs[i],
    axisLine:{show:false,onZero:false},
    axisTick:{show:true,customValues:minor,length:3,lineStyle:{color:axisColor}},
    axisLabel:{show:false}, splitLine:{show:false}});

  const s = {type:'line', xAxisIndex:2*i, yAxisIndex:2*i, data:holes[i], showSymbol:false, symbol:'none',
    lineStyle:{color:'#000',width:1.5}, silent:true, z:3};
  const ml = {silent:true, symbolSize:11, label:{show:false}, lineStyle:{color:RED,width:2,type:'solid'}, emphasis:{disabled:true}, data:[]};
  if (i===0) ml.data = lineMark(arrowsA,'none','arrow');
  if (i===1) {
    ml.data = lineMark(tofArrowsB,'arrow','arrow').concat(lineMark(noiseArrowB,'none','arrow'));
    s.markPoint = {silent:true, symbol:'circle', symbolSize:37, label:{show:false},
      itemStyle:{color:'rgba(0,0,0,0)', borderColor:RED, borderWidth:1.5, borderType:'dashed'},
      data:[{coord:noiseCircleB}]};
  }
  if (i===3) ml.data = lineMark(lmeasDoubleD,'arrow','arrow').concat(lineMark(lmeasArrowsD,'none','arrow'));
  if (ml.data.length) s.markLine = ml;
  option.series.push(s);

  option.graphic.push({type:'text', x:titlePos[i][0], y:titlePos[i][1], z:10,
    style:{text:panelTitles[i], font:'bold 33px '+BOLD, fill:'#000', align:'center', verticalAlign:'middle'}});
});

function label(txt, x, y, size){
  return {type:'text', x:x, y:y, z:10,
    style:{text:txt, font:'bold '+size+'px '+BOLD, fill:'#000', align:'center', verticalAlign:'middle', lineHeight:21}};
}
option.graphic.push(
  label('Base Signal',133,40,16),
  label('Hole Start\nDetection',171,107,16),
  label('Hole End\nDetection',255,152,16),
  label('Base Signal',597,32,16),
  label('Hole Start\nDetection',659,85,16),
  label('Hole End\nDetection',845,74,16),
  label('ToF',613,147,17),
  label('ToF',737,122,17),
  label('Noise',773,250,17)
);
function lmeas(x,y){
  return {type:'text', x:x, y:y, z:10, style:{text:'{n|L}{i|meas}', align:'center', verticalAlign:'middle', fill:'#000',
    rich:{n:{fontFamily:BOLD,fontWeight:'bold',fontSize:28,fill:'#000'}, i:{fontFamily:BOLD,fontWeight:'bold',fontStyle:'italic',fontSize:28,fill:'#000'}}}};
}
option.graphic.push(
  lmeas(178,442), lmeas(278,495), lmeas(408,484),
  {type:'text', x:235, y:452, z:10, style:{text:'0', font:'italic bold 26px '+BOLD, fill:'#000', align:'center', verticalAlign:'middle'}},
  {type:'text', x:336, y:506, z:10, style:{text:'1', font:'bold 26px '+BOLD, fill:'#000', align:'center', verticalAlign:'middle'}},
  {type:'text', x:470, y:498, z:10, style:{text:'2', font:'bold 26px '+BOLD, fill:'#000', align:'center', verticalAlign:'middle'}},
  {type:'text', x:22, y:360, rotation:Math.PI/2, z:10, style:{text:yAxisTitle, font:'bold 28px '+BOLD, fill:'#000', align:'center', verticalAlign:'middle'}},
  {type:'text', x:731, y:745, z:10, style:{text:xAxisTitle, font:'bold 28px '+BOLD, fill:'#000', align:'center', verticalAlign:'middle'}}
);

const chart = echarts.init(document.getElementById('c'), null, {renderer:'canvas'});
chart.setOption(option);
</script>
</body></html>
